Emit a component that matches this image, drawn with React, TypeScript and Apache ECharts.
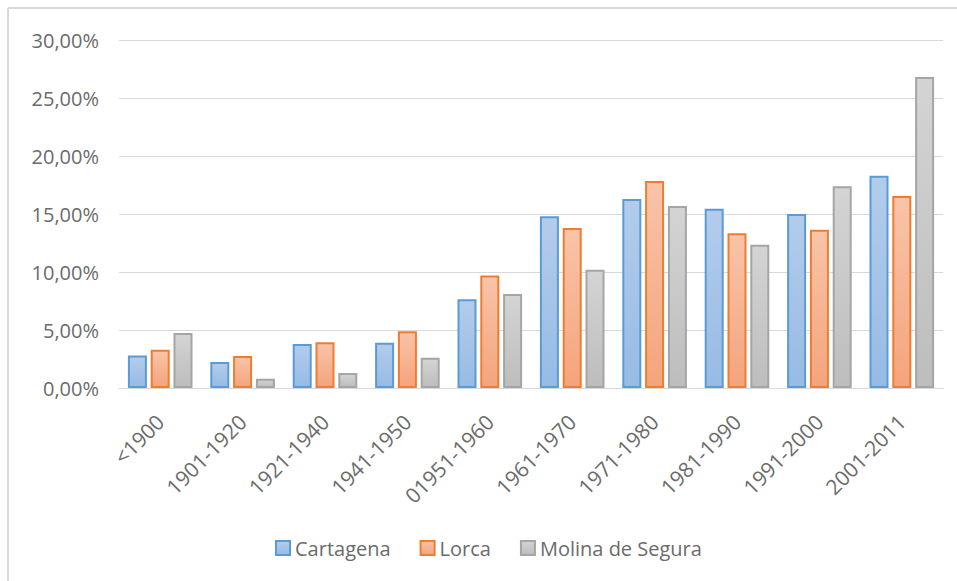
import React, { useEffect, useRef } from "react";
import * as echarts from "echarts";

const categories = [
  "<1900",
  "1901-1920",
  "1921-1940",
  "1941-1950",
  "01951-1960",
  "1961-1970",
  "1971-1980",
  "1981-1990",
  "1991-2000",
  "2001-2011",
];
const cartagena = [2.8, 2.25, 3.8, 3.9, 7.65, 14.8, 16.3, 15.45, 15.0, 18.3];
const lorca = [3.3, 2.75, 3.95, 4.9, 9.7, 13.8, 17.85, 13.35, 13.65, 16.55];
const molina = [4.75, 0.8, 1.3, 2.6, 8.1, 10.2, 15.7, 12.35, 17.4, 26.8];
const seriesNames = ["Cartagena", "Lorca", "Molina de Segura"];

const FONT = "'Open Sans', 'DejaVu Sans', sans-serif";
const TEXT = "#6b6b6b";

function grad(top: string, bottom: string) {
  return new echarts.graphic.LinearGradient(0, 0, 0, 1, [
    { offset: 0, color: top },
    { offset: 1, color: bottom },
  ]);
}

export default function App() {
  const ref = useRef<HTMLDivElement>(null);
  useEffect(() => {
    if (!ref.current) return;
    const chart = echarts.init(ref.current, undefined, { renderer: "svg" });
    const styles = [
      { fill: grad("#b3cceb", "#97bbe4"), border: "#5b9bd5" },
      { fill: grad("#f8c4a9", "#f4a47c"), border: "#ed7d31" },
      { fill: grad("#d4d4d4", "#bdbdbd"), border: "#a5a5a5" },
    ];
    const datas = [cartagena, lorca, molina];
    chart.setOption({
      animation: false,
      backgroundColor: "#ffffff",
      graphic: [
        {
          type: "line",
          shape: { x1: 8, y1: 8, x2: 957, y2: 8 },
          style: { stroke: "#d9d9d9", lineWidth: 2 },
        },
        {
          type: "line",
          shape: { x1: 8, y1: 8, x2: 8, y2: 581 },
          style: { stroke: "#d9d9d9", lineWidth: 2 },
        },
      ],
      grid: { left: 119, right: 14, top: 40, bottom: 193 },
      legend: {
        left: 270,
        top: 533,
        itemWidth: 14,
        itemHeight: 14,
        itemGap: 29,
        icon: "rect",
        textStyle: { color: TEXT, fontSize: 20, fontFamily: FONT },
        data: seriesNames,
      },
      xAxis: {
        type: "category",
        data: categories,
        axisLine: { lineStyle: { color: "#d9d9d9", width: 1 } },
        axisTick: { show: false },
        axisLabel: {
          rotate: 45,
          interval: 0,
          margin: 30,
          color: TEXT,
          fontSize: 21,
          fontFamily: FONT,
        },
      },
      yAxis: {
        type: "value",
        min: 0,
        max: 30,
        interval: 5,
        axisLine: { show: false },
        axisTick: { show: false },
        splitLine: { lineStyle: { color: "#d9d9d9", width: 1 } },
        axisLabel: {
          margin: 20,
          color: TEXT,
          fontSize: 20,
          fontFamily: FONT,
          formatter: (v: number) => v.toFixed(2).replace(".", ",") + "%",
        },
      },
      series: seriesNames.map((name, i) => ({
        name,
        type: "bar",
        data: datas[i],
        barWidth: 19,
        barGap: "20%",
        itemStyle: {
          color: styles[i].fill,
          borderColor: styles[i].border,
          borderWidth: 2,
        },
      })),
    });
    return () => chart.dispose();
  }, []);
  return (
    <div
      ref={ref}
      style={{ position: "absolute", left: 0, top: 0, width: 957, height: 581 }}
    />
  );
}
